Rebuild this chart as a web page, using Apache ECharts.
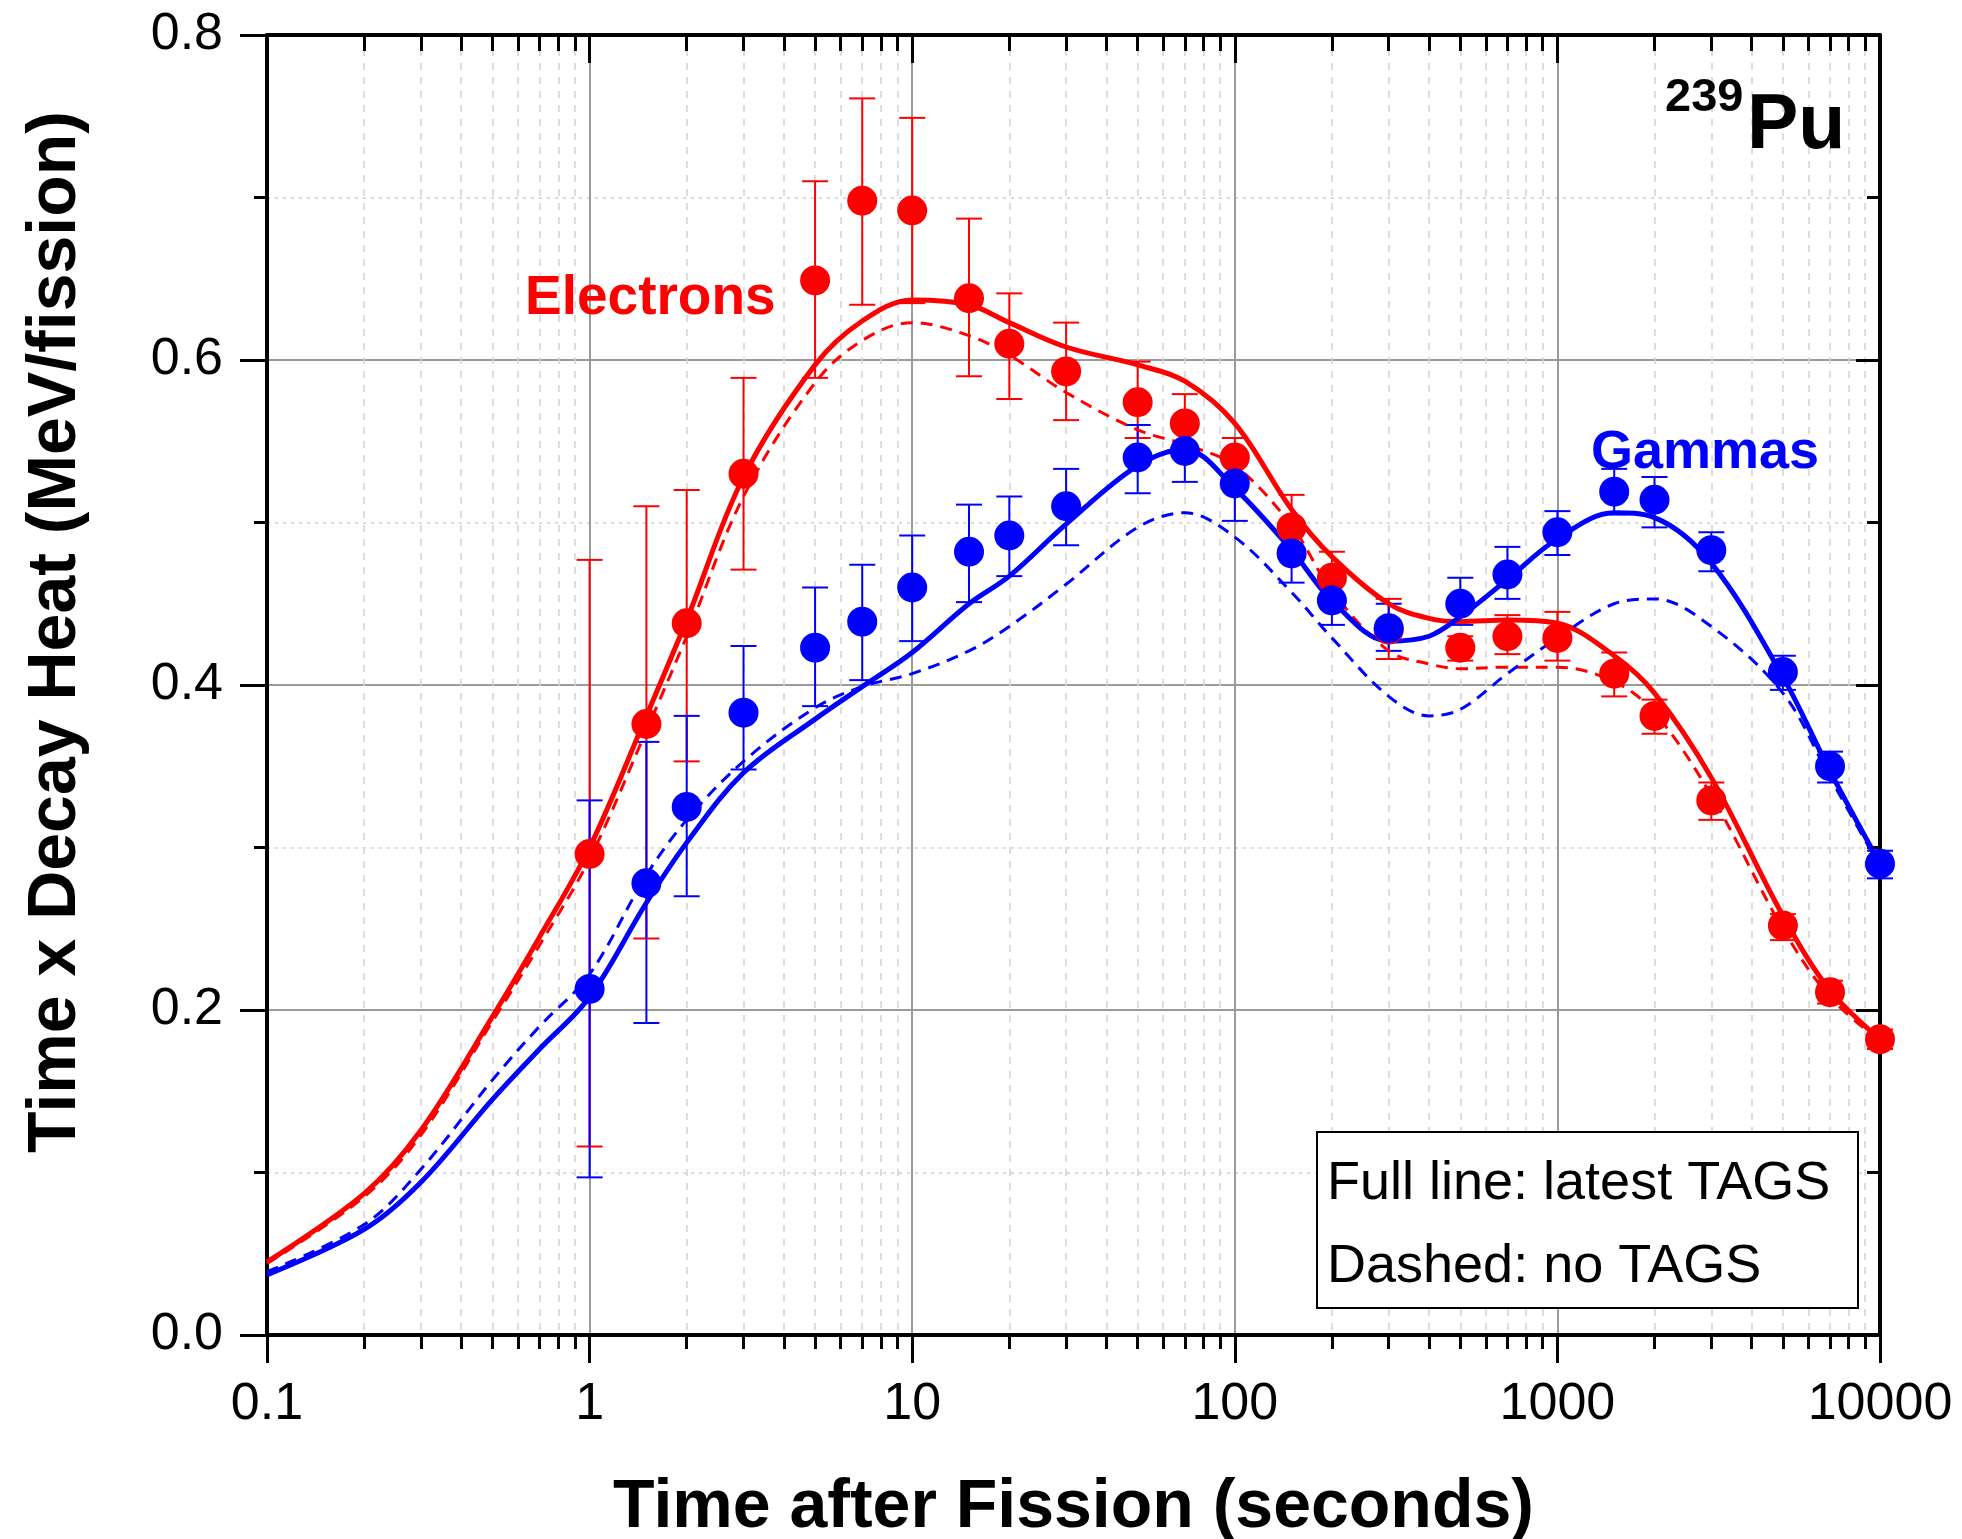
<!DOCTYPE html>
<html>
<head>
<meta charset="utf-8">
<script src="https://cdn.jsdelivr.net/npm/echarts@6/dist/echarts.min.js"></script>
<style>
  html, body { margin: 0; padding: 0; background: #fff; }
  #chart { width: 1962px; height: 1539px; }
</style>
</head>
<body>
<div id="chart"></div>
<script>
// measured points (time in s)
const pointTimes = [1, 1.5, 2, 3, 5, 7, 10, 15, 20, 30, 50, 70, 100, 150, 200, 300, 500, 700, 1000, 1500, 2000, 3000, 5000, 7000, 10000]
const electronVals = [0.296, 0.376, 0.438, 0.530, 0.649, 0.698, 0.692, 0.638, 0.610, 0.593, 0.574, 0.561, 0.540, 0.497, 0.466, 0.434, 0.423, 0.430, 0.429, 0.407, 0.381, 0.329, 0.252, 0.211, 0.182]
const electronLo = [0.116, 0.244, 0.353, 0.471, 0.589, 0.634, 0.635, 0.590, 0.576, 0.563, 0.552, 0.544, 0.527, 0.479, 0.453, 0.416, 0.415, 0.419, 0.415, 0.393, 0.370, 0.317, 0.243, 0.204, 0.176]
const electronHi = [0.477, 0.510, 0.520, 0.589, 0.710, 0.761, 0.749, 0.687, 0.641, 0.623, 0.599, 0.579, 0.552, 0.517, 0.482, 0.453, 0.430, 0.443, 0.445, 0.420, 0.391, 0.340, 0.259, 0.218, 0.188]
const gammaVals = [0.213, 0.278, 0.325, 0.383, 0.423, 0.439, 0.460, 0.482, 0.492, 0.510, 0.540, 0.544, 0.524, 0.481, 0.452, 0.435, 0.450, 0.468, 0.494, 0.519, 0.514, 0.483, 0.408, 0.350, 0.290]
const gammaLo = [0.097, 0.192, 0.270, 0.348, 0.387, 0.403, 0.427, 0.451, 0.467, 0.486, 0.518, 0.525, 0.501, 0.463, 0.437, 0.421, 0.437, 0.453, 0.480, 0.505, 0.497, 0.470, 0.397, 0.340, 0.281]
const gammaHi = [0.329, 0.365, 0.381, 0.424, 0.460, 0.474, 0.492, 0.511, 0.516, 0.533, 0.560, 0.563, 0.541, 0.499, 0.467, 0.450, 0.466, 0.485, 0.507, 0.533, 0.528, 0.494, 0.418, 0.359, 0.298]

// calculated curves
const curveTimes = [0.1, 0.2, 0.3, 0.5, 0.7, 1, 1.5, 2, 3, 5, 7, 10, 15, 20, 30, 50, 70, 100, 150, 200, 300, 400, 500, 700, 1000, 1500, 2000, 3000, 5000, 7000, 10000]
const electronsTags = [0.045, 0.087, 0.126, 0.196, 0.245, 0.300, 0.381, 0.440, 0.528, 0.597, 0.624, 0.637, 0.634, 0.623, 0.608, 0.597, 0.587, 0.561, 0.508, 0.479, 0.450, 0.441, 0.439, 0.440, 0.438, 0.418, 0.395, 0.343, 0.258, 0.212, 0.182]
const electronsNoTags = [0.044, 0.085, 0.123, 0.193, 0.240, 0.293, 0.372, 0.430, 0.516, 0.586, 0.612, 0.623, 0.615, 0.603, 0.580, 0.557, 0.548, 0.535, 0.498, 0.458, 0.421, 0.413, 0.410, 0.411, 0.411, 0.402, 0.383, 0.332, 0.250, 0.208, 0.181]
const gammasTags = [0.037, 0.065, 0.094, 0.145, 0.176, 0.208, 0.266, 0.303, 0.346, 0.379, 0.399, 0.420, 0.450, 0.467, 0.499, 0.535, 0.545, 0.521, 0.483, 0.452, 0.427, 0.430, 0.442, 0.465, 0.490, 0.506, 0.503, 0.475, 0.405, 0.347, 0.290]
const gammasNoTags = [0.039, 0.068, 0.102, 0.157, 0.190, 0.222, 0.283, 0.317, 0.353, 0.386, 0.399, 0.407, 0.421, 0.436, 0.462, 0.497, 0.506, 0.491, 0.457, 0.429, 0.393, 0.381, 0.385, 0.407, 0.429, 0.450, 0.453, 0.436, 0.395, 0.343, 0.288]

const xTicks = [0.1, 1, 10, 100, 1000, 10000]
const yTicks = [0, 0.2, 0.4, 0.6, 0.8]

const RED = '#ff0000'
const BLUE = '#0000ff'
const FONT = '"Liberation Sans", Arial, sans-serif'

function pairs(xs, ys) {
  return xs.map((x, i) => [x, ys[i]])
}

function bars(xs, lo, hi) {
  return xs.map((x, i) => [x, lo[i], hi[i]])
}

function errorBarSeries(name, color, data) {
  return {
    name: name,
    type: 'custom',
    data: data,
    encode: {x: 0, y: [1, 2]},
    z: 2,
    renderItem: function (params, api) {
      const top = api.coord([api.value(0), api.value(2)])
      const bot = api.coord([api.value(0), api.value(1)])
      const w = 13
      const style = {stroke: color, lineWidth: 2}
      return {
        type: 'group',
        children: [
          {type: 'line', shape: {x1: top[0], y1: top[1], x2: bot[0], y2: bot[1]}, style: style},
          {type: 'line', shape: {x1: top[0] - w, y1: top[1], x2: top[0] + w, y2: top[1]}, style: style},
          {type: 'line', shape: {x1: bot[0] - w, y1: bot[1], x2: bot[0] + w, y2: bot[1]}, style: style}
        ]
      }
    }
  }
}

function curveSeries(name, color, ys, dashed) {
  return {
    name: name,
    type: 'line',
    data: pairs(curveTimes, ys),
    smooth: 0.35,
    showSymbol: false,
    z: 3,
    lineStyle: {color: color, width: dashed ? 3 : 5, type: dashed ? [12, 8] : 'solid'}
  }
}

function pointSeries(name, color, ys) {
  return {
    name: name,
    type: 'scatter',
    data: pairs(pointTimes, ys),
    symbol: 'circle',
    symbolSize: 30,
    z: 4,
    itemStyle: {color: color, opacity: 1}
  }
}

const myChart = echarts.init(document.getElementById('chart'))

const option = {
  backgroundColor: '#fff',
  animation: false,
  textStyle: {fontFamily: FONT},
  grid: {left: 267, right: 82, top: 35, bottom: 204, outerBoundsMode: 'none', containLabel: false},
  xAxis: [
    {
      type: 'log',
      logBase: 10,
      min: 0.1,
      max: 10000,
      position: 'bottom',
      name: 'Time after Fission (seconds)',
      nameLocation: 'middle',
      nameGap: 139,
      nameTextStyle: {fontSize: 68, fontWeight: 'bold', color: '#000', fontFamily: FONT},
      axisLine: {onZero: false, lineStyle: {color: '#000', width: 4}},
      axisTick: {inside: false, length: 28, lineStyle: {color: '#000', width: 3}},
      minorTick: {show: true, splitNumber: 9, length: 14, lineStyle: {color: '#000', width: 3}},
      splitLine: {show: true, lineStyle: {color: '#9a9a9a', width: 2}},
      minorSplitLine: {show: true, lineStyle: {color: '#d2d2d2', width: 1.5, type: [7, 7]}},
      axisLabel: {
        fontSize: 52, color: '#000', margin: 44, fontFamily: FONT,
        formatter: v => String(xTicks.find(t => Math.abs(t - v) / t < 1e-6) ?? v)
      }
    },
    {
      type: 'log',
      logBase: 10,
      min: 0.1,
      max: 10000,
      position: 'top',
      axisLine: {onZero: false, lineStyle: {color: '#000', width: 4}},
      axisTick: {inside: true, length: 28, lineStyle: {color: '#000', width: 3}},
      minorTick: {show: true, splitNumber: 9, length: 16, lineStyle: {color: '#000', width: 3}},
      splitLine: {show: false},
      axisLabel: {show: false}
    }
  ],
  yAxis: [
    {
      type: 'value',
      min: 0,
      max: 0.8,
      interval: 0.2,
      position: 'left',
      name: 'Time x Decay Heat (MeV/fission)',
      nameLocation: 'middle',
      nameGap: 177,
      nameTextStyle: {fontSize: 68, fontWeight: 'bold', color: '#000', fontFamily: FONT, padding: [0, 0, 0, 106]},
      axisLine: {show: true, onZero: false, lineStyle: {color: '#000', width: 4}},
      axisTick: {inside: false, length: 27, lineStyle: {color: '#000', width: 3}},
      minorTick: {show: true, splitNumber: 2, length: 13, lineStyle: {color: '#000', width: 3}},
      splitLine: {show: true, lineStyle: {color: '#9a9a9a', width: 2}},
      minorSplitLine: {show: true, lineStyle: {color: '#cfcfcf', width: 1.5, type: [3, 5]}},
      axisLabel: {
        fontSize: 52, color: '#000', margin: 44, fontFamily: FONT,
        formatter: v => yTicks.includes(+v.toFixed(1)) ? v.toFixed(1) : ''
      }
    },
    {
      type: 'value',
      min: 0,
      max: 0.8,
      interval: 0.2,
      position: 'right',
      axisLine: {show: true, onZero: false, lineStyle: {color: '#000', width: 4}},
      axisTick: {inside: true, length: 24, lineStyle: {color: '#000', width: 3}},
      minorTick: {show: true, splitNumber: 2, length: 13, lineStyle: {color: '#000', width: 3}},
      splitLine: {show: false},
      axisLabel: {show: false}
    }
  ],
  graphic: [
    {type: 'text', left: 525, top: 271, style: {text: 'Electrons', fill: RED, font: 'bold 55px ' + FONT}, z: 10},
    {type: 'text', left: 1591, top: 426, style: {text: 'Gammas', fill: BLUE, font: 'bold 54px ' + FONT}, z: 10},
    {type: 'text', left: 1665, top: 75, style: {text: '239', fill: '#000', font: 'bold 47px ' + FONT}, z: 10},
    {type: 'text', left: 1747, top: 88, style: {text: 'Pu', fill: '#000', font: 'bold 77px ' + FONT}, z: 10},
    {type: 'rect', left: 1316, top: 1131, shape: {width: 541, height: 176}, style: {fill: '#fff', stroke: '#000', lineWidth: 2}, z: 10},
    {type: 'text', left: 1327, top: 1157, style: {text: 'Full line: latest TAGS', fill: '#000', font: '54px ' + FONT}, z: 11},
    {type: 'text', left: 1327, top: 1240, style: {text: 'Dashed: no TAGS', fill: '#000', font: '54px ' + FONT}, z: 11}
  ],
  series: [
    errorBarSeries('Electrons error', RED, bars(pointTimes, electronLo, electronHi)),
    errorBarSeries('Gammas error', BLUE, bars(pointTimes, gammaLo, gammaHi)),
    curveSeries('Electrons latest TAGS', RED, electronsTags, false),
    curveSeries('Electrons no TAGS', RED, electronsNoTags, true),
    curveSeries('Gammas latest TAGS', BLUE, gammasTags, false),
    curveSeries('Gammas no TAGS', BLUE, gammasNoTags, true),
    pointSeries('Electrons', RED, electronVals),
    pointSeries('Gammas', BLUE, gammaVals)
  ]
}

myChart.setOption(option)
</script>
</body>
</html>
